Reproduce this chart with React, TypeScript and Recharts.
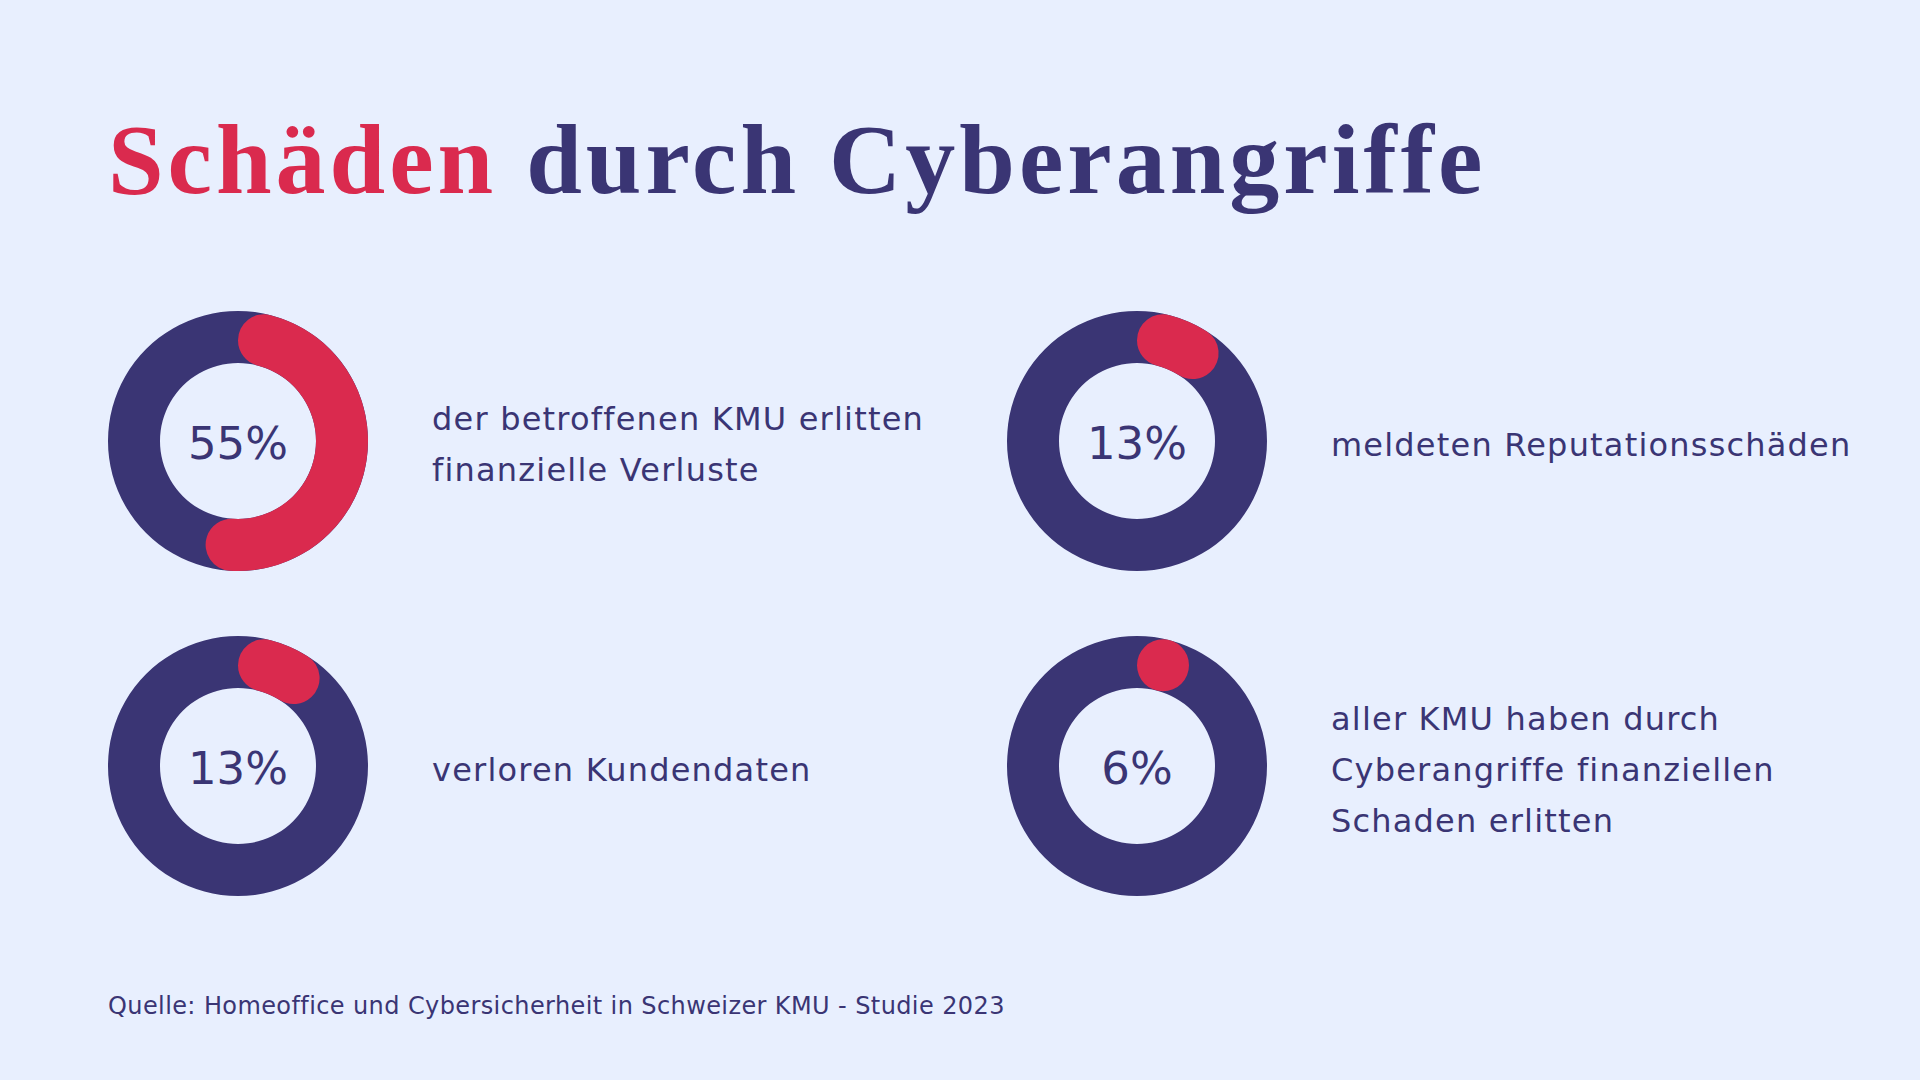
import { RadialBarChart, RadialBar, PolarAngleAxis } from 'recharts'

const NAVY = '#3a3574'
const RED = '#da2a4e'
const BG = '#e8effe'

const titleRed = 'Schäden'
const titleNavy = 'durch Cyberangriffe'
const percentValues = [55, 13, 13, 6]
const percentLabels = ['55%', '13%', '13%', '6%']
const descriptions = [
  ['der betroffenen KMU erlitten', 'finanzielle Verluste'],
  ['meldeten Reputationsschäden'],
  ['verloren Kundendaten'],
  ['aller KMU haben durch', 'Cyberangriffe finanziellen', 'Schaden erlitten'],
]
const source = 'Quelle: Homeoffice und Cybersicherheit in Schweizer KMU - Studie 2023'

// donut centres on the page
const centers = [
  { x: 238, y: 441 },
  { x: 1137, y: 441 },
  { x: 238, y: 766 },
  { x: 1137, y: 766 },
]
const textLeft = [432, 1331, 432, 1331]
const SIZE = 280
const LINE = 51
const SANS = '"DejaVu Sans", sans-serif'

function Donut({ value, label, cx, cy }: { value: number; label: string; cx: number; cy: number }) {
  return (
    <div style={{ position: 'absolute', left: cx - SIZE / 2, top: cy - SIZE / 2, width: SIZE, height: SIZE }}>
      {/* band 75..133, bar of 52 centred in it -> ring 78..130 */}
      <RadialBarChart
        width={SIZE}
        height={SIZE}
        data={[{ name: label, value }]}
        innerRadius={75}
        outerRadius={133}
        startAngle={90}
        endAngle={-270}
        margin={{ top: 0, right: 0, bottom: 0, left: 0 }}
      >
        <PolarAngleAxis type="number" domain={[0, 100]} tick={false} axisLine={false} />
        <RadialBar
          dataKey="value"
          fill={RED}
          background={{ fill: NAVY }}
          barSize={52}
          cornerRadius={26}
          forceCornerRadius
          isAnimationActive={false}
        />
      </RadialBarChart>
      <div
        style={{
          position: 'absolute',
          left: 0,
          width: SIZE,
          top: SIZE / 2 - 21,
          height: 48,
          lineHeight: '48px',
          fontSize: 45,
          fontFamily: SANS,
          color: NAVY,
          textAlign: 'center',
        }}
      >
        {label}
      </div>
    </div>
  )
}

export default function App() {
  return (
    <div
      style={{
        position: 'absolute',
        left: 0,
        top: 0,
        width: 1920,
        height: 1080,
        background: BG,
        overflow: 'hidden',
        fontFamily: SANS,
      }}
    >
      <div
        style={{
          position: 'absolute',
          left: 108,
          top: 110,
          fontFamily: '"Liberation Serif", serif',
          fontWeight: 700,
          fontSize: 100,
          lineHeight: '100px',
          letterSpacing: 4,
          whiteSpace: 'nowrap',
        }}
      >
        <span style={{ color: RED }}>{titleRed}</span> <span style={{ color: NAVY }}>{titleNavy}</span>
      </div>

      {percentValues.map((v, i) => (
        <Donut key={i} value={v} label={percentLabels[i]} cx={centers[i].x} cy={centers[i].y} />
      ))}

      {descriptions.map((lines, i) => (
        <div
          key={i}
          style={{
            position: 'absolute',
            left: textLeft[i],
            top: centers[i].y - (lines.length * LINE) / 2 + 4,
            fontSize: 32,
            lineHeight: `${LINE}px`,
            letterSpacing: 1.2,
            color: NAVY,
            whiteSpace: 'nowrap',
          }}
        >
          {lines.map((l, j) => (
            <div key={j}>{l}</div>
          ))}
        </div>
      ))}

      <div
        style={{
          position: 'absolute',
          left: 108,
          top: 994,
          fontSize: 24,
          lineHeight: '25px',
          letterSpacing: 0.4,
          color: NAVY,
          whiteSpace: 'nowrap',
        }}
      >
        {source}
      </div>
    </div>
  )
}
